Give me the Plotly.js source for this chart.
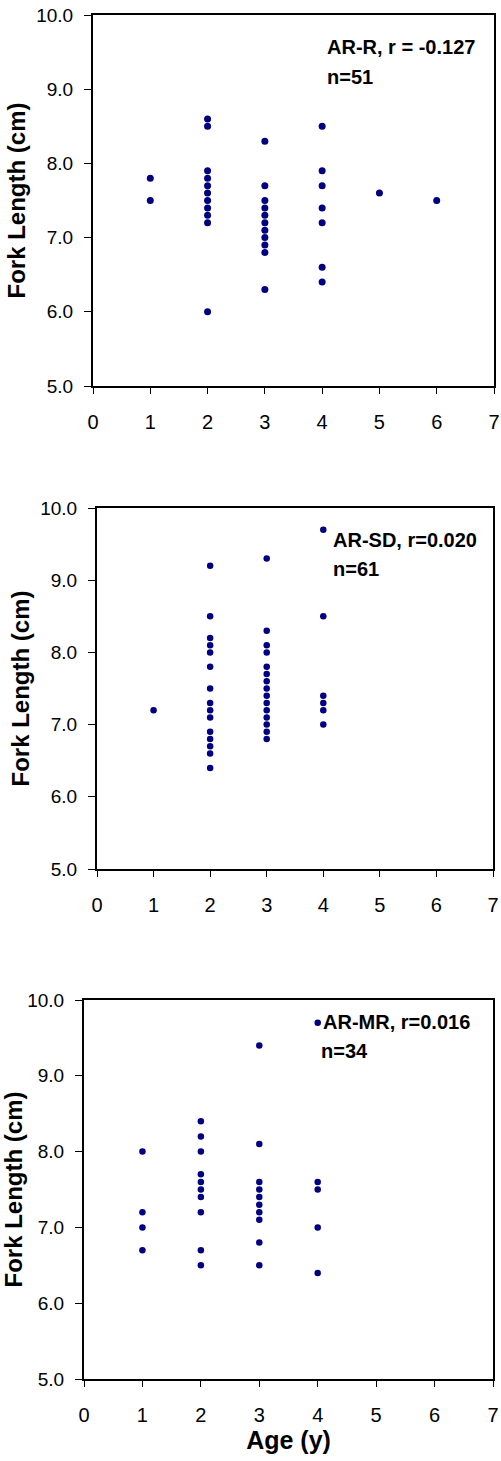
<!DOCTYPE html>
<html>
<head>
<meta charset="utf-8">
<script src="https://cdn.plot.ly/plotly-3.0.1.min.js"></script>
<style>html,body{margin:0;padding:0;background:#fff;}#chart{width:501px;height:1461px;}</style>
</head>
<body>
<div id="chart"></div>
<script>
// ---- data ----
const ageR = [1,1, 2,2,2,2,2,2,2,2,2,2,2, 3,3,3,3,3,3,3,3,3,3,3, 4,4,4,4,4,4,4, 5, 6];
const lenR = [7.8,7.5, 8.6,8.5,7.9,7.8,7.7,7.6,7.5,7.4,7.3,7.2,6.0, 8.3,7.7,7.5,7.4,7.3,7.2,7.1,7.0,6.9,6.8,6.3, 8.5,7.9,7.7,7.4,7.2,6.6,6.4, 7.6, 7.5];

const ageSD = [1, 2,2,2,2,2,2,2,2,2,2,2,2,2,2,2, 3,3,3,3,3,3,3,3,3,3,3,3,3,3,3, 4,4,4,4,4,4];
const lenSD = [7.2, 9.2,8.5,8.2,8.1,8.0,7.8,7.5,7.3,7.2,7.1,6.9,6.8,6.7,6.6,6.4, 9.3,8.3,8.1,8.0,7.8,7.7,7.6,7.5,7.4,7.3,7.2,7.1,7.0,6.9,6.8, 9.7,8.5,7.4,7.3,7.2,7.0];

const ageMR = [1,1,1,1, 2,2,2,2,2,2,2,2,2,2, 3,3,3,3,3,3,3,3,3,3, 4,4,4,4,4];
const lenMR = [8.0,7.2,7.0,6.7, 8.4,8.2,8.0,7.7,7.6,7.5,7.4,7.2,6.7,6.5, 9.4,8.1,7.6,7.5,7.4,7.3,7.2,7.1,6.8,6.5, 9.7,7.6,7.5,7.0,6.4];

const labelsMain = ["AR-R, r = -0.127", "AR-SD, r=0.020", "AR-MR, r=0.016"];
const labelsN = ["n=51", "n=61", "n=34"];
const yTitle = "Fork Length (cm)";
const xTitle = "Age (y)";

// ---- layout ----
const W = 501, H = 1461;
const FONT = "Liberation Sans, Arial, sans-serif";
const MARK = "#000080";

// pixel boxes of the three plot areas [left, right, top, bottom]
const boxes = [[93, 494, 15, 386], [97, 493, 508, 869], [84, 493, 1000, 1379]];
const msize = [7, 6.5, 6.5];

function xax(i) {
  const b = boxes[i];
  const a = {
    domain: [b[0] / W, b[1] / W], range: [0, 7], dtick: 1, tick0: 0,
    showline: true, linecolor: "#000", linewidth: 2, mirror: true,
    ticks: "outside", ticklen: 6, tickwidth: 1, tickcolor: "#000",
    showgrid: false, zeroline: false, fixedrange: true,
    tickfont: {family: FONT, size: 20, color: "#000"}, ticklabelstandoff: 11,
    anchor: "y" + (i === 0 ? "" : (i + 1))
  };
  if (i === 2) a.title = {text: xTitle, font: {family: FONT, size: 25, color: "#000", weight: "bold"}, standoff: 6};
  return a;
}
function yax(i) {
  const b = boxes[i];
  return {
    domain: [1 - b[3] / H, 1 - b[2] / H], range: [5, 10], dtick: 1, tick0: 5, tickformat: ".1f",
    showline: true, linecolor: "#000", linewidth: 2, mirror: true,
    ticks: "outside", ticklen: 7, tickwidth: 1, tickcolor: "#000",
    showgrid: false, zeroline: false, fixedrange: true,
    tickfont: {family: FONT, size: 19, color: "#000"}, ticklabelstandoff: 7,
    title: {text: yTitle, font: {family: FONT, size: 24, color: "#000", weight: "bold"}, standoff: 4},
    anchor: "x" + (i === 0 ? "" : (i + 1))
  };
}

const series = [[ageR, lenR], [ageSD, lenSD], [ageMR, lenMR]];
const traces = series.map((s, i) => ({
  type: "scatter", mode: "markers", x: s[0], y: s[1],
  xaxis: "x" + (i === 0 ? "" : (i + 1)), yaxis: "y" + (i === 0 ? "" : (i + 1)),
  marker: {color: MARK, size: msize[i], line: {width: 0}},
  hoverinfo: "x+y", showlegend: false, cliponaxis: false
}));

// annotation text positions (domain fractions)
const annPos = [
  [[0.578, 0.913], [0.578, 0.832]],
  [[0.592, 0.912], [0.592, 0.832]],
  [[0.580, 0.942], [0.575, 0.865]]
];
const annotations = [];
for (let i = 0; i < 3; i++) {
  const sfx = i === 0 ? "" : (i + 1);
  [labelsMain[i], labelsN[i]].forEach((t, k) => {
    annotations.push({
      text: "<b>" + t + "</b>", showarrow: false,
      xref: "x" + sfx + " domain", yref: "y" + sfx + " domain",
      x: annPos[i][k][0], y: annPos[i][k][1], xanchor: "left", yanchor: "middle",
      font: {family: FONT, size: 20, color: "#000"}
    });
  });
}

const layout = {
  width: W, height: H, margin: {l: 0, r: 0, t: 0, b: 0},
  paper_bgcolor: "#fff", plot_bgcolor: "#fff", showlegend: false,
  annotations: annotations
};
for (let i = 0; i < 3; i++) {
  const sfx = i === 0 ? "" : (i + 1);
  layout["xaxis" + sfx] = xax(i);
  layout["yaxis" + sfx] = yax(i);
}

Plotly.newPlot("chart", traces, layout, {displayModeBar: false, staticPlot: true});
</script>
</body>
</html>
